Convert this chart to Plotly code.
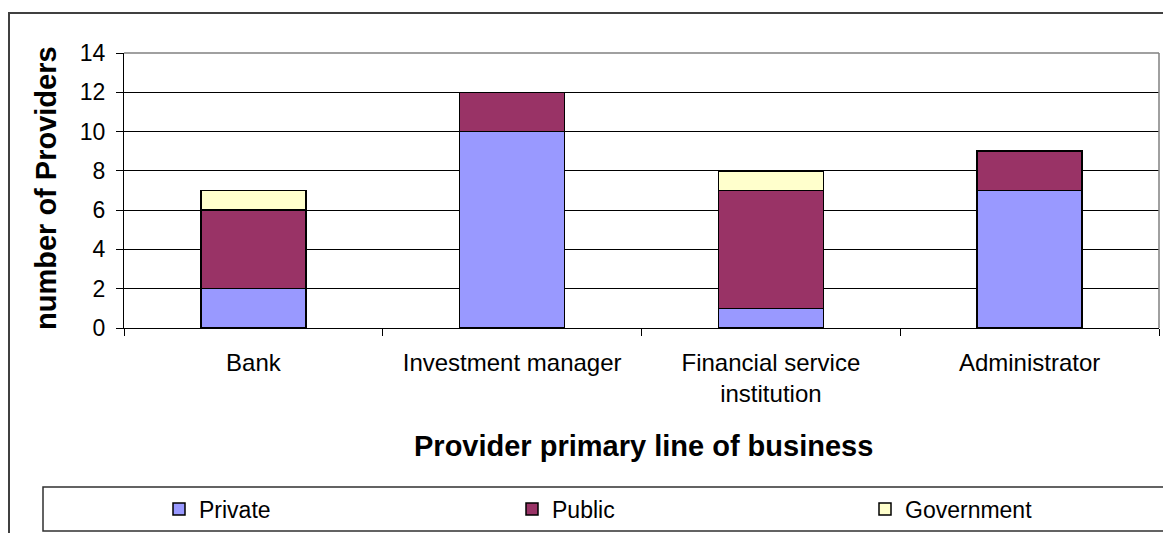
import plotly.graph_objects as go

# Provider counts by primary line of business, split by ownership type
categories = ["Bank", "Investment manager", "Financial service<br>institution", "Administrator"]
private = [2, 10, 1, 7]
public = [4, 2, 6, 2]
government = [1, 0, 1, 0]

series = [
    ("Private", private, "#9999FF", "legend", 159),
    ("Public", public, "#993366", "legend2", 512),
    ("Government", government, "#FFFFCC", "legend3", 865),
]

W, H = 1163, 533
L, R, T, B = 124, 4, 53, 205
PW, PH = W - L - R, H - T - B

def px_x(p):
    return (p - L) / PW

def px_y(p):
    return (H - B - p) / PH

FONT = "Arial, Liberation Sans, sans-serif"

fig = go.Figure()
legends = {}
for name, vals, color, leg, lx in series:
    fig.add_trace(go.Bar(
        name=name, x=categories, y=vals, width=0.406, legend=leg,
        marker=dict(color=color, line=dict(color="black", width=1.5)),
    ))
    legends[leg] = dict(
        orientation="h", x=px_x(lx), xanchor="left",
        y=px_y(509), yanchor="middle",
        font=dict(size=23), bgcolor="rgba(0,0,0,0)",
    )

fig.update_layout(
    width=W, height=H,
    margin=dict(l=L, r=R, t=T, b=B, pad=0, autoexpand=False),
    barmode="stack",
    plot_bgcolor="white", paper_bgcolor="white",
    font=dict(family=FONT, size=23, color="black"),
    showlegend=True,
    **legends,
    xaxis=dict(
        showline=True, linecolor="black", linewidth=1,
        ticks="outside", tickson="boundaries", ticklen=7, tickcolor="black",
        showgrid=False, tickfont=dict(size=24),
        ticklabelstandoff=13,
    ),
    yaxis=dict(
        range=[0, 14], dtick=2, tick0=0,
        showline=True, linecolor="black", linewidth=1,
        ticks="outside", ticklen=7, tickcolor="black",
        showgrid=True, gridcolor="black", gridwidth=1,
        zeroline=False, tickfont=dict(size=23),
        ticklabelstandoff=6,
    ),
    annotations=[
        dict(text="<b>number of Providers</b>", xref="paper", yref="paper",
             x=px_x(46), y=px_y(188), xanchor="center", yanchor="middle",
             textangle=-90, showarrow=False, font=dict(size=29)),
        dict(text="<b>Provider primary line of business</b>", xref="paper", yref="paper",
             x=px_x(643), y=px_y(446), xanchor="center", yanchor="middle",
             showarrow=False, font=dict(size=29)),
    ],
    shapes=[
        # plot-area frame (top and right edges)
        dict(type="line", xref="paper", yref="paper", x0=0, x1=1, y0=1, y1=1,
             line=dict(color="#808080", width=1.5), layer="above"),
        dict(type="line", xref="paper", yref="paper", x0=1, x1=1, y0=0, y1=1,
             line=dict(color="#808080", width=1.5), layer="above"),
        # chart border
        dict(type="rect", xref="paper", yref="paper",
             x0=px_x(9), x1=px_x(1175), y0=px_y(13), y1=px_y(545),
             line=dict(color="#404040", width=2), layer="above"),
        # legend box
        dict(type="rect", xref="paper", yref="paper",
             x0=px_x(43), x1=px_x(1175), y0=px_y(487), y1=px_y(531),
             line=dict(color="#303030", width=1.5), layer="above"),
    ],
)

fig.write_html("out.html")
